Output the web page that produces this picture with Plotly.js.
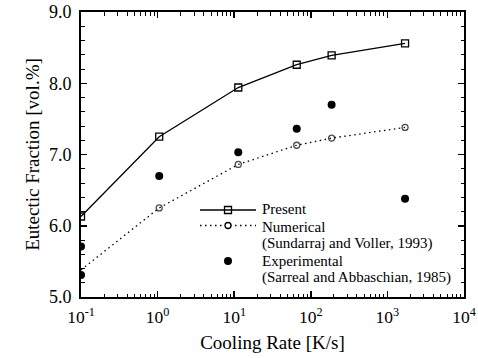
<!DOCTYPE html>
<html>
<head>
<meta charset="utf-8">
<script src="https://cdn.plot.ly/plotly-3.0.1.min.js"></script>
<style>
  html, body { margin: 0; padding: 0; background: #fff; }
  #chart { width: 478px; height: 358px; }
</style>
</head>
<body>
<div id="chart"></div>
<script>
// Cooling rates [K/s] shared by the model curves
const coolingRate = [0.1, 1.05, 11.3, 65.5, 187, 1700];
// Eutectic fraction [vol.%], present model
const present = [6.13, 7.25, 7.94, 8.26, 8.39, 8.56];
// Eutectic fraction [vol.%], numerical model (Sundarraj and Voller, 1993)
const numerical = [5.38, 6.25, 6.86, 7.13, 7.23, 7.38];
// Measurements (Sarreal and Abbaschian, 1985)
const expRate = [0.1, 0.1, 1.05, 11.3, 65.5, 187, 1700];
const experimental = [5.71, 5.31, 6.70, 7.03, 7.36, 7.70, 6.38];

const xTickVals = [0.1, 1, 10, 100, 1000, 10000];
const xTickText = ['10<sup>-1</sup>', '10<sup>0</sup>', '10<sup>1</sup>', '10<sup>2</sup>', '10<sup>3</sup>', '10<sup>4</sup>'];
const xMinorVals = [0.2, 0.3, 0.4, 0.5, 0.6, 0.7, 0.8, 0.9, 2, 3, 4, 5, 6, 7, 8, 9,
  20, 30, 40, 50, 60, 70, 80, 90, 200, 300, 400, 500, 600, 700, 800, 900,
  2000, 3000, 4000, 5000, 6000, 7000, 8000, 9000];
const legendLabels = ['Present', 'Numerical', '(Sundarraj and Voller, 1993)', 'Experimental', '(Sarreal and Abbaschian, 1985)'];

const FONT = 'Liberation Serif, Times New Roman, serif';
const W = 478, H = 358;
const M = { l: 81, r: 14, t: 12, b: 61 };
const PW = W - M.l - M.r, PH = H - M.t - M.b;
// pixel position -> paper fraction, for the hand-built key
const px = v => (v - M.l) / PW;
const py = v => (H - M.b - v) / PH;

const traces = [
  {
    x: coolingRate, y: present, type: 'scatter', mode: 'lines+markers',
    line: { color: '#000', width: 1.3 },
    marker: { symbol: 'square-open', size: 7, color: '#000', line: { width: 1.3 } },
    showlegend: false, hoverinfo: 'skip'
  },
  {
    x: coolingRate, y: numerical, type: 'scatter', mode: 'lines+markers',
    line: { color: '#000', width: 1.3, dash: '1.5px,3.5px' },
    marker: { symbol: 'circle-open', size: [0, 6, 6, 6, 6, 6], color: '#000', line: { width: 1.3 } },
    showlegend: false, hoverinfo: 'skip'
  },
  {
    x: expRate, y: experimental, type: 'scatter', mode: 'markers',
    marker: { symbol: 'circle', size: 8, color: '#000' },
    showlegend: false, hoverinfo: 'skip'
  }
];

// key: sample lines and symbols
const rowY = [210, 225.5, 261];
const shapes = [
  { type: 'line', xref: 'paper', yref: 'paper', x0: px(200), x1: px(256), y0: py(rowY[0]), y1: py(rowY[0]),
    line: { color: '#000', width: 1.3 } },
  { type: 'rect', xref: 'paper', yref: 'paper', xsizemode: 'pixel', ysizemode: 'pixel',
    xanchor: px(228), yanchor: py(rowY[0]), x0: -3.5, x1: 3.5, y0: -3.5, y1: 3.5,
    line: { color: '#000', width: 1.3 }, fillcolor: 'rgba(0,0,0,0)' },
  { type: 'line', xref: 'paper', yref: 'paper', x0: px(200), x1: px(256), y0: py(rowY[1]), y1: py(rowY[1]),
    line: { color: '#000', width: 1.3, dash: '1.5px,3.5px' } },
  { type: 'circle', xref: 'paper', yref: 'paper', xsizemode: 'pixel', ysizemode: 'pixel',
    xanchor: px(228), yanchor: py(rowY[1]), x0: -3, x1: 3, y0: -3, y1: 3,
    line: { color: '#000', width: 1.3 }, fillcolor: '#fff' },
  { type: 'circle', xref: 'paper', yref: 'paper', xsizemode: 'pixel', ysizemode: 'pixel',
    xanchor: px(228), yanchor: py(rowY[2]), x0: -4, x1: 4, y0: -4, y1: 4,
    line: { color: '#000', width: 0 }, fillcolor: '#000' }
];

// key: text lines (centre y of each line)
const textY = [209.5, 226.5, 243.5, 260.5, 277.5];
const annotations = legendLabels.map((t, i) => ({
  text: t, xref: 'paper', yref: 'paper', x: px(261), y: py(textY[i]),
  xanchor: 'left', yanchor: 'middle', showarrow: false, borderpad: 0,
  font: { family: FONT, size: 15, color: '#000' }
}));

const axisCommon = {
  showline: true, linecolor: '#000', linewidth: 2, mirror: 'allticks',
  ticks: 'inside', tickcolor: '#000', tickwidth: 1.5, ticklen: 6,
  showgrid: false, zeroline: false
};

const layout = {
  width: W, height: H, margin: M,
  paper_bgcolor: '#fff', plot_bgcolor: '#fff',
  font: { family: FONT, color: '#000' },
  xaxis: Object.assign({}, axisCommon, {
    type: 'log', range: [-1, 4],
    tickmode: 'array', tickvals: xTickVals, ticktext: xTickText,
    tickfont: { family: FONT, size: 17.5, color: '#000' },
    ticklabelstandoff: 3,
    minor: { tickmode: 'array', tickvals: xMinorVals,
             ticks: 'inside', ticklen: 3.5, tickcolor: '#000', tickwidth: 1 },
    title: { text: 'Cooling Rate [K/s]', font: { family: FONT, size: 19, color: '#000' }, standoff: 10 }
  }),
  yaxis: Object.assign({}, axisCommon, {
    range: [5, 9], dtick: 1, tick0: 5, tickformat: '.1f',
    tickfont: { family: FONT, size: 18, color: '#000' },
    ticklabelstandoff: 4,
    minor: { dtick: 0.2, ticks: 'inside', ticklen: 3.5, tickcolor: '#000', tickwidth: 1 },
    title: { text: 'Eutectic Fraction [vol.%]', font: { family: FONT, size: 19, color: '#000' }, standoff: 4 }
  }),
  shapes: shapes,
  annotations: annotations,
  showlegend: false
};

Plotly.newPlot('chart', traces, layout, { staticPlot: true, displayModeBar: false });
</script>
</body>
</html>
